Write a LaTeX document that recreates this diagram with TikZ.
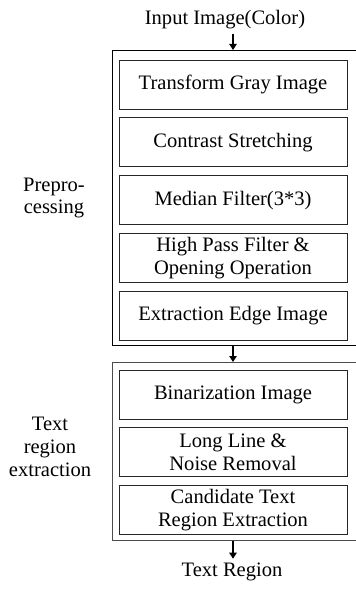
\documentclass[tikz,border=0pt]{standalone}
\usepackage{fontspec}
\setmainfont{Liberation Serif}
\usetikzlibrary{positioning,arrows.meta}

\begin{document}
\begin{tikzpicture}[
  x=0.75pt, y=-0.75pt,
  node distance=6pt,
  every node/.style={font=\fontsize{15.4pt}{17pt}\selectfont},
  stage/.style={draw=black!85, line width=0.6pt, align=center, inner sep=0pt,
                minimum width=171pt, minimum height=36.75pt},
  group/.style={draw=#1, line width=0.8pt, inner sep=0pt, anchor=north west,
                minimum width=190pt},
  group/.default=black,
  side/.style={align=center, inner sep=0pt},
  io/.style={inner sep=3pt},
  flow/.style={-{Triangle[length=4.5pt,width=5.5pt]}, line width=1.1pt},
]
\useasboundingbox (0,0) rectangle (355,591);

% ---- Entrada
\node[io] (input) at (225,20) {Input Image(Color)};

% ---- Bloco 1: pre-processamento
\node[group, minimum height=221.25pt] (pre) at (112,50) {};
\node[stage] (gray) at (233,84.5) {Transform Gray Image};
\node[stage, below=of gray] (contrast) {Contrast Stretching};
\node[stage, below=of contrast] (median) {Median Filter(3*3)};
\node[stage, below=of median] (hpf) {High Pass Filter \&\\ Opening Operation};
\node[stage, below=of hpf] (edge) {Extraction Edge Image};
\node[side] (prelab) at (54,198) {Prepro-\\cessing};

% ---- Bloco 2: extracao da regiao de texto
\node[group=black!70, minimum height=133.5pt] (txt) at (112,362) {};
\node[stage] (binar) at (233,394.5) {Binarization Image};
\node[stage, below=of binar] (noise) {Long Line \&\\ Noise Removal};
\node[stage, below=of noise] (cand) {Candidate Text\\ Region Extraction};
\node[side] (txtlab) at (50,447) {Text\\ region\\ extraction};

% ---- Saida
\node[io] (output) at (232,572) {Text Region};

% ---- Setas
\draw[flow] (gray |- input.south) -- (gray |- pre.north);
\draw[flow] (edge |- pre.south) -- (edge |- txt.north);
\draw[flow] (cand |- txt.south) -- (cand |- output.north);
\end{tikzpicture}
\end{document}
